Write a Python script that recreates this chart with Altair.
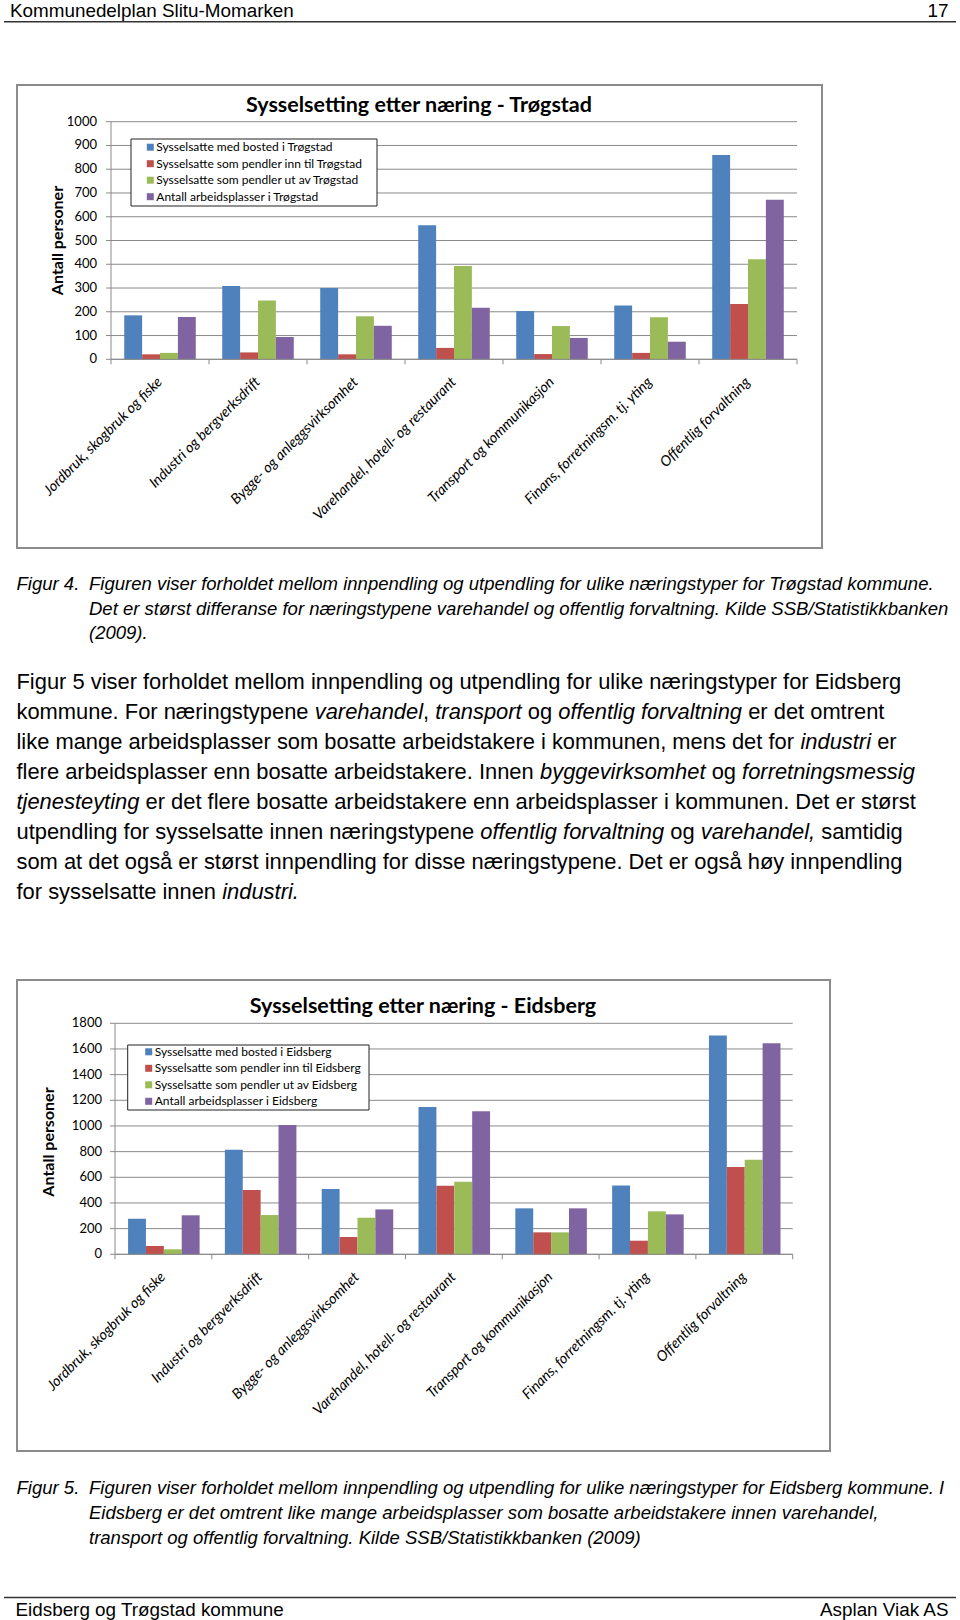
import altair as alt
import pandas as pd

# ------------------------------------------------------------------ data
categories = [
    "Jordbruk, skogbruk og fiske",
    "Industri og bergverksdrift",
    "Bygge- og anleggsvirksomhet",
    "Varehandel, hotell- og restaurant",
    "Transport og kommunikasjon",
    "Finans, forretningsm. tj. yting",
    "Offentlig forvaltning",
]

series_trogstad = [
    "Sysselsatte med bosted i Trøgstad",
    "Sysselsatte som pendler inn til Trøgstad",
    "Sysselsatte som pendler ut av Trøgstad",
    "Antall arbeidsplasser i Trøgstad",
]
trogstad_bosted = [185, 308, 300, 564, 203, 226, 860]
trogstad_inn = [21, 29, 21, 48, 22, 27, 233]
trogstad_ut = [27, 248, 181, 393, 140, 177, 421]
trogstad_arbeidsplasser = [178, 94, 141, 217, 90, 74, 672]

series_eidsberg = [
    "Sysselsatte med bosted i Eidsberg",
    "Sysselsatte som pendler inn til Eidsberg",
    "Sysselsatte som pendler ut av Eidsberg",
    "Antall arbeidsplasser i Eidsberg",
]
eidsberg_bosted = [277, 815, 509, 1148, 358, 537, 1704]
eidsberg_inn = [65, 501, 135, 535, 171, 106, 680]
eidsberg_ut = [39, 306, 285, 566, 171, 335, 737]
eidsberg_arbeidsplasser = [304, 1007, 350, 1114, 358, 311, 1644]

trogstad_ticks = [0, 100, 200, 300, 400, 500, 600, 700, 800, 900, 1000]
eidsberg_ticks = [0, 200, 400, 600, 800, 1000, 1200, 1400, 1600, 1800]

bar_colors = ["#4F81BD", "#C0504D", "#9BBB59", "#8064A2"]

title_trogstad = "Sysselsetting etter næring - Trøgstad"
title_eidsberg = "Sysselsetting etter næring - Eidsberg"
y_title = "Antall personer"

header_left = "Kommunedelplan Slitu-Momarken"
header_right = "17"
footer_left = "Eidsberg og Trøgstad kommune"
footer_right = "Asplan Viak AS"

caption4_label = "Figur 4."
caption4_lines = [
    "Figuren viser forholdet mellom innpendling og utpendling for ulike næringstyper for Trøgstad kommune.",
    "Det er størst differanse for næringstypene varehandel og offentlig forvaltning. Kilde SSB/Statistikkbanken",
    "(2009).",
]
caption5_label = "Figur 5."
caption5_lines = [
    "Figuren viser forholdet mellom innpendling og utpendling for ulike næringstyper for Eidsberg kommune. I",
    "Eidsberg er det omtrent like mange arbeidsplasser som bosatte arbeidstakere innen varehandel,",
    "transport og offentlig forvaltning. Kilde SSB/Statistikkbanken (2009)",
]
body_lines = [
    [("Figur 5 viser forholdet mellom innpendling og utpendling for ulike næringstyper for Eidsberg", False)],
    [("kommune. For næringstypene ", False), ("varehandel", True), (", ", False), ("transport", True),
     (" og ", False), ("offentlig forvaltning", True), (" er det omtrent", False)],
    [("like mange arbeidsplasser som bosatte arbeidstakere i kommunen, mens det for ", False),
     ("industri", True), (" er", False)],
    [("flere arbeidsplasser enn bosatte arbeidstakere. Innen ", False), ("byggevirksomhet", True),
     (" og ", False), ("forretningsmessig", True)],
    [("tjenesteyting", True),
     (" er det flere bosatte arbeidstakere enn arbeidsplasser i kommunen. Det er størst", False)],
    [("utpendling for sysselsatte innen næringstypene ", False), ("offentlig forvaltning", True),
     (" og ", False), ("varehandel,", True), (" samtidig", False)],
    [("som at det også er størst innpendling for disse næringstypene. Det er også høy innpendling", False)],
    [("for sysselsatte innen ", False), ("industri.", True)],
]

# ------------------------------------------------ text metrics (Arial / Liberation Sans)
W = {" ": 278, ",": 278, ".": 278, "-": 333, "/": 278, "(": 333, ")": 333}
for c in "0123456789":
    W[c] = 556
W.update({"a": 556, "b": 556, "c": 500, "d": 556, "e": 556, "f": 278, "g": 556, "h": 556,
          "i": 222, "j": 222, "k": 500, "l": 222, "m": 833, "n": 556, "o": 556, "p": 556,
          "q": 556, "r": 333, "s": 500, "t": 278, "u": 556, "v": 500, "w": 722, "x": 500,
          "y": 500, "z": 500, "æ": 889, "ø": 611, "å": 556})
W.update({"A": 667, "B": 667, "C": 722, "D": 722, "E": 667, "F": 611, "G": 778, "H": 722,
          "I": 278, "J": 500, "K": 667, "L": 556, "M": 833, "N": 722, "O": 778, "P": 667,
          "Q": 778, "R": 722, "S": 667, "T": 611, "U": 722, "V": 667, "W": 944, "X": 667,
          "Y": 667, "Z": 611})


def em(s):
    return sum(W.get(c, 556) for c in s) / 1000.0


ONE = pd.DataFrame({"o": [0]})
PAGE_FONT = "Liberation Sans"
CHART_FONT = "Lato"
GRID = "#8a8a8a"


def text_mark(txt, x, y, size, font=PAGE_FONT, italic=False, bold=False, align="left",
              angle=None, color="black"):
    kw = dict(text=txt, align=align, baseline="middle", font=font, fontSize=size, color=color)
    if italic:
        kw["fontStyle"] = "italic"
    if bold:
        kw["fontWeight"] = "bold"
    if angle is not None:
        kw["angle"] = angle
    return alt.Chart(ONE).mark_text(**kw).encode(x=alt.value(x), y=alt.value(y))


def rule(x1, y1, x2, y2, color="black", width=1.0):
    return alt.Chart(ONE).mark_rule(color=color, strokeWidth=width).encode(
        x=alt.value(x1), x2=alt.value(x2), y=alt.value(y1), y2=alt.value(y2))


def box(x1, y1, x2, y2, stroke, width, fill="white"):
    return alt.Chart(ONE).mark_rect(fill=fill, stroke=stroke, strokeWidth=width).encode(
        x=alt.value(x1), x2=alt.value(x2), y=alt.value(y1), y2=alt.value(y2))


layers = []

# ------------------------------------------------ header / footer
fs_head = 284.0 / em(header_left)
layers.append(text_mark(header_left, 10, 10.5, fs_head))
layers.append(text_mark(header_right, 948.5, 10.5, fs_head, align="right"))
layers.append(rule(4, 21.7, 956, 21.7, color="#333333", width=1.6))
layers.append(rule(4, 1597.5, 956, 1597.5, color="#333333", width=1.6))
layers.append(text_mark(footer_left, 15.5, 1609.5, fs_head))
layers.append(text_mark(footer_right, 948.5, 1609.5, fs_head, align="right"))

# ------------------------------------------------ captions
fs_cap = 860.0 / em(caption4_lines[1])
layers.append(text_mark(caption4_label, 16.5, 584, fs_cap, italic=True))
for i, ln in enumerate(caption4_lines):
    layers.append(text_mark(ln, 89, 584 + 24.7 * i, fs_cap, italic=True))
layers.append(text_mark(caption5_label, 16.5, 1488, fs_cap, italic=True))
for i, ln in enumerate(caption5_lines):
    layers.append(text_mark(ln, 89, 1488 + 25 * i, fs_cap, italic=True))

# ------------------------------------------------ body paragraph (mixed roman / italic)
fs_body = 885.0 / em(body_lines[0][0][0])
for i, segs in enumerate(body_lines):
    y = 682 + 30 * i
    acc = ""
    for txt, it in segs:
        lead = len(txt) - len(txt.lstrip(" "))
        x = 16.5 + fs_body * em(acc + txt[:lead])
        if txt.strip():
            layers.append(text_mark(txt.strip(), x, y, fs_body, italic=it))
        acc += txt


# ------------------------------------------------ charts
def build_chart(series, values, ticks, title, g):
    rows = []
    for si, (s, vals) in enumerate(zip(series, values)):
        for c, v in zip(categories, vals):
            rows.append({"cat": c, "key": si, "series": s, "value": v})
    df = pd.DataFrame(rows)
    tdf = pd.DataFrame({"t": ticks, "label": [str(t) for t in ticks]})
    cdf = pd.DataFrame({"cat": categories})
    kdf = pd.DataFrame({"k": list(range(len(categories) + 1))})

    left, right, top, bottom = g["left"], g["right"], g["top"], g["bottom"]
    xs = alt.Scale(domain=categories, range=[left, right], paddingInner=0.27, paddingOuter=0.135)
    ys = alt.Scale(domain=[0, ticks[-1]], range=[bottom, top], nice=False)
    X = alt.X("cat:N", scale=xs, axis=None, sort=categories)
    YT = alt.Y("t:Q", scale=ys, axis=None)

    out = []
    out.append(box(*g["frame"], stroke="#8c8c8c", width=2))
    out.append(text_mark(title, g["title"][0], g["title"][1], 21.5, font=CHART_FONT, bold=True,
                         align="center"))
    out.append(text_mark(y_title, g["ytitle"][0], g["ytitle"][1], 16, font=CHART_FONT,
                         bold=True, align="center", angle=270))

    grid = alt.Chart(tdf).mark_rule(color=GRID, strokeWidth=1).encode(
        y=YT, x=alt.value(left), x2=alt.value(right))
    yticks = alt.Chart(tdf).mark_rule(color=GRID, strokeWidth=1).encode(
        y=YT, x=alt.value(left - 5), x2=alt.value(left))
    ylabels = alt.Chart(tdf).mark_text(align="right", baseline="middle", font=CHART_FONT,
                                       fontSize=13, color="black").encode(
        y=YT, x=alt.value(g["ylab_x"]), text="label:N")
    legbox = box(*g["legbox"], stroke="#222222", width=1)
    bars = alt.Chart(df).mark_bar().encode(
        x=X,
        xOffset=alt.XOffset("key:N", scale=alt.Scale(paddingInner=0, paddingOuter=0)),
        y=alt.Y("value:Q", scale=ys, axis=None),
        color=alt.Color("series:N", sort=series,
                        scale=alt.Scale(domain=series, range=bar_colors),
                        legend=alt.Legend(orient="none", legendX=g["leg"][0], legendY=g["leg"][1],
                                          title=None, symbolType="square", symbolSize=49,
                                          symbolStrokeWidth=0, labelFont=CHART_FONT,
                                          labelFontSize=12, labelColor="black",
                                          rowPadding=g["rowpad"], labelOffset=0, padding=0,
                                          labelLimit=400)),
    )
    catlabels = alt.Chart(cdf).mark_text(angle=315, align="right", baseline="middle",
                                         font=CHART_FONT, fontStyle="italic", fontSize=14.4,
                                         color="black").encode(
        x=X, y=alt.value(g["cat_y"]), text="cat:N")
    inner = alt.layer(grid, yticks, ylabels, legbox, bars, catlabels)
    out.append(inner)

    # axis lines and category boundary ticks
    out.append(rule(left, top, left, bottom, color=GRID))
    out.append(rule(left, bottom, right, bottom, color=GRID))
    xticks = alt.Chart(kdf).mark_rule(color=GRID, strokeWidth=1).encode(
        x=alt.X("k:Q", scale=alt.Scale(domain=[0, len(categories)], range=[left, right]),
                axis=None),
        y=alt.value(bottom), y2=alt.value(bottom + 5))
    out.append(xticks)
    return out


g1 = dict(frame=(17, 85, 822, 548), left=111, right=797, top=121.7, bottom=359.3,
          title=(419, 106), ytitle=(57.5, 240.5), ylab_x=97, legbox=(131, 139, 377, 206),
          leg=(144.3, 141.2), rowpad=4.5, cat_y=380)
g2 = dict(frame=(17, 980, 830, 1451), left=115, right=792.7, top=1023.3, bottom=1254.3,
          title=(423, 1006.7), ytitle=(48.5, 1142), ylab_x=102, legbox=(127.7, 1045, 369, 1110),
          leg=(142.7, 1045.8), rowpad=4.5, cat_y=1275)

layers += build_chart(series_trogstad,
                      [trogstad_bosted, trogstad_inn, trogstad_ut, trogstad_arbeidsplasser],
                      trogstad_ticks, title_trogstad, g1)
layers += build_chart(series_eidsberg,
                      [eidsberg_bosted, eidsberg_inn, eidsberg_ut, eidsberg_arbeidsplasser],
                      eidsberg_ticks, title_eidsberg, g2)

chart = alt.layer(*layers).resolve_scale(
    x="independent", y="independent", color="independent"
).properties(
    width=960, height=1620, padding=0, autosize=alt.AutoSizeParams(type="none"),
    background="white",
).configure_view(stroke=None)

chart.save("out.html", embed_options={"renderer": "svg", "actions": False})
